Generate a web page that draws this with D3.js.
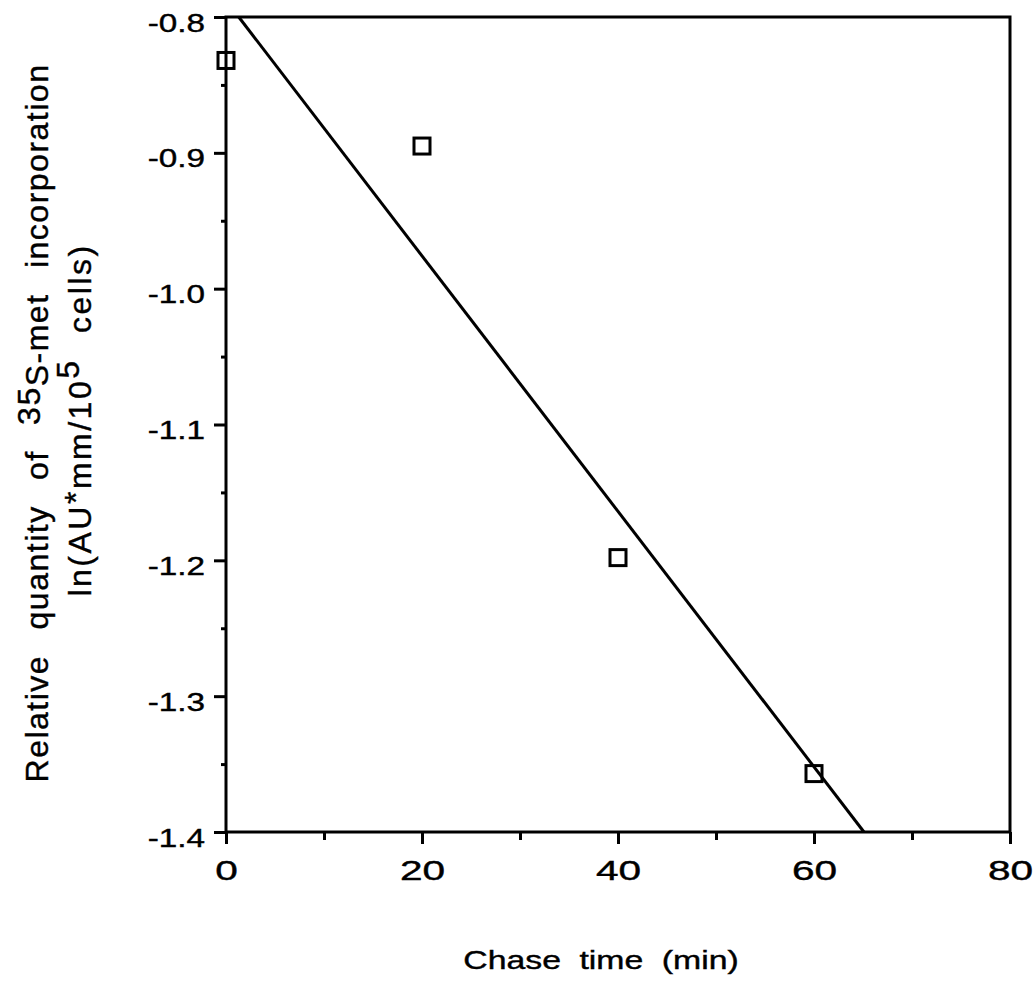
<!DOCTYPE html>
<html>
<head>
<meta charset="utf-8">
<script src="https://cdn.jsdelivr.net/npm/d3@7/dist/d3.min.js"></script>
<style>
  html, body { margin: 0; padding: 0; background: #fff; }
  svg { display: block; }
  text { font-family: "Liberation Sans", Arial, Helvetica, sans-serif; fill: #000; stroke: #000; stroke-width: 0.4px; }
</style>
</head>
<body>
<svg id="chart" width="1035" height="991"></svg>
<script>
// ---- data ----
const chaseTime = [0, 20, 40, 60];                 // min
const lnQuantity = [-0.832, -0.895, -1.198, -1.357]; // ln(AU*mm/10^5 cells)
const fitLineX = [1.3, 65.1];                       // fitted line end points (x)
const fitLineY = [-0.8, -1.4];                      // fitted line end points (y)
const xMajorTicks = [0, 20, 40, 60, 80];
const xMinorTicks = [10, 30, 50, 70];
const yMajorTicks = [-0.8, -0.9, -1.0, -1.1, -1.2, -1.3, -1.4];
const yMinorTicks = [-0.85, -0.95, -1.05, -1.15, -1.25, -1.35];
const xTitle = "Chase time (min)";

const svg = d3.select("#chart");
svg.append("rect").attr("width", 1035).attr("height", 991).attr("fill", "#fff");

const x = d3.scaleLinear().domain([0, 80]).range([226, 1010]);
const y = d3.scaleLinear().domain([-0.8, -1.4]).range([17, 832]);

const SW = 3;

// minor ticks
svg.append("g").attr("transform", `translate(${x(0)},0)`)
  .call(d3.axisLeft(y).tickValues(yMinorTicks).tickSize(5).tickSizeOuter(0).tickFormat(""))
  .call(g => g.select(".domain").remove())
  .call(g => g.selectAll("line").attr("stroke-width", SW));
svg.append("g").attr("transform", `translate(0,${y(-1.4)})`)
  .call(d3.axisBottom(x).tickValues(xMinorTicks).tickSize(8).tickSizeOuter(0).tickFormat(""))
  .call(g => g.select(".domain").remove())
  .call(g => g.selectAll("line").attr("stroke-width", SW));

// major y axis
svg.append("g").attr("transform", `translate(${x(0)},0)`)
  .call(d3.axisLeft(y).tickValues(yMajorTicks).tickSize(12).tickSizeOuter(0)
        .tickFormat(d => d3.format(".1f")(d).replace("−", "-")))
  .call(g => g.select(".domain").remove())
  .call(g => g.selectAll("line").attr("stroke-width", SW))
  .call(g => g.selectAll("text")
      .attr("x", null).attr("dy", "0.54em")
      .attr("transform", "translate(-21,0) scale(1.28,1)")
      .attr("font-size", 26)
      .attr("font-family", null)
      .attr("text-anchor", "end"));

// major x axis
svg.append("g").attr("transform", `translate(0,${y(-1.4)})`)
  .call(d3.axisBottom(x).tickValues(xMajorTicks).tickSize(12).tickSizeOuter(0).tickFormat(d3.format("d")))
  .call(g => g.select(".domain").remove())
  .call(g => g.selectAll("line").attr("stroke-width", SW))
  .call(g => g.selectAll("text")
      .attr("y", null).attr("dy", 0)
      .attr("transform", "translate(0,48) scale(1.45,1)")
      .attr("font-size", 28)
      .attr("font-family", null)
      .attr("text-anchor", "middle"));

// frame
svg.append("rect")
  .attr("x", x(0)).attr("y", y(-0.8))
  .attr("width", x(80) - x(0)).attr("height", y(-1.4) - y(-0.8))
  .attr("fill", "none").attr("stroke", "#000").attr("stroke-width", SW);

// fitted line
const line = d3.line().x(d => x(d[0])).y(d => y(d[1]));
svg.append("path")
  .datum(fitLineX.map((v, i) => [v, fitLineY[i]]))
  .attr("d", line)
  .attr("fill", "none").attr("stroke", "#000").attr("stroke-width", SW);

// data points (open squares)
const S = 16;
svg.append("g").selectAll("rect")
  .data(chaseTime.map((v, i) => [v, lnQuantity[i]]))
  .join("rect")
  .attr("x", d => x(d[0]) - S / 2).attr("y", d => y(d[1]) - S / 2)
  .attr("width", S).attr("height", S)
  .attr("fill", "none").attr("stroke", "#000").attr("stroke-width", SW);

// x title
svg.append("text")
  .attr("transform", "translate(601,969) scale(1.3,1)")
  .attr("text-anchor", "middle")
  .attr("font-size", 26)
  .attr("word-spacing", 7)
  .text(xTitle);

// y title, two rotated lines
const t1 = svg.append("text")
  .attr("transform", "translate(48,423) rotate(-90)")
  .attr("text-anchor", "middle")
  .attr("font-size", 32)
  .attr("letter-spacing", 1.5)
  .attr("word-spacing", 15);
t1.append("tspan").text("Relative quantity of ");
t1.append("tspan").attr("dy", -8).text("35");
t1.append("tspan").attr("dy", 8).text("S-met incorporation");

const t2 = svg.append("text")
  .attr("transform", "translate(91,420) rotate(-90)")
  .attr("text-anchor", "middle")
  .attr("font-size", 32)
  .attr("letter-spacing", 2.5)
  .attr("word-spacing", 14);
t2.append("tspan").text("ln(AU");
t2.append("tspan").attr("dy", -4).text("*");
t2.append("tspan").attr("dy", 4).text("mm/10");
t2.append("tspan").attr("dy", -12).text("5");
t2.append("tspan").attr("dy", 12).text(" cells)");
</script>
</body>
</html>
